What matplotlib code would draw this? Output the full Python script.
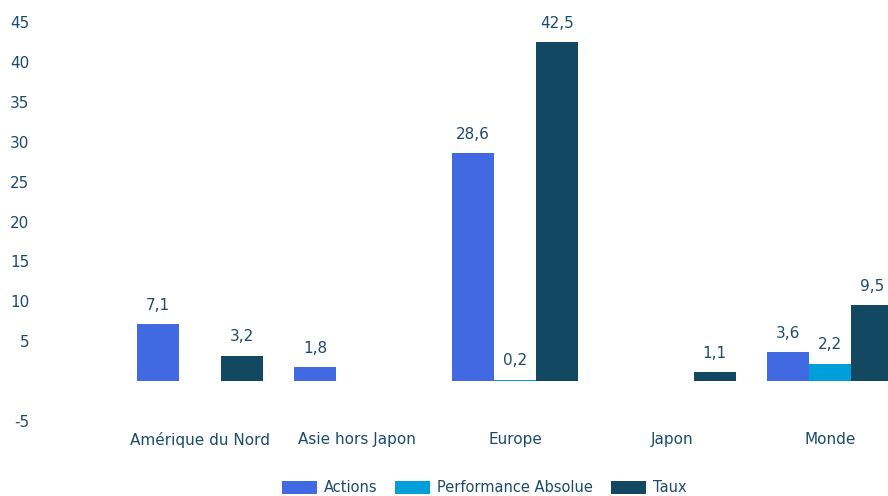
import numpy as np
import matplotlib.pyplot as plt

categories = ["Amérique du Nord", "Asie hors Japon", "Europe", "Japon", "Monde"]
actions = [7.1, 1.8, 28.6, None, 3.6]
perf_absolue = [None, None, 0.2, None, 2.2]
taux = [3.2, None, 42.5, 1.1, 9.5]

series = [
    ("Actions", actions, "#4169e1"),
    ("Performance Absolue", perf_absolue, "#009fd9"),
    ("Taux", taux, "#134862"),
]
text_color = "#1d4a6c"
plt.rcParams["axes.unicode_minus"] = False

fig = plt.figure(figsize=(8.88, 4.96), dpi=100)
ax = fig.add_axes([121 / 888, 75 / 496, 788 / 888, 399 / 496])

x = np.arange(len(categories))
width = 0.8 / 3

for i, (name, vals, color) in enumerate(series):
    pos = x + (i - 1) * width
    h = [v if v is not None else 0 for v in vals]
    bars = ax.bar(pos, h, width, color=color, label=name, linewidth=0)
    for b, v in zip(bars, vals):
        if v is None:
            continue
        ax.annotate(f"{v:.1f}".replace(".", ","),
                    (b.get_x() + b.get_width() / 2, v),
                    xytext=(0, 8), textcoords="offset points",
                    ha="center", va="bottom", fontsize=11, color=text_color)

ax.set_xlim(-0.5, len(categories) - 0.5)
ax.set_ylim(-5, 45)
ax.set_yticks([-5, 5, 10, 15, 20, 25, 30, 35, 40, 45])
ax.set_xticks(x)
ax.set_xticklabels(categories)
ax.tick_params(axis="y", length=0, pad=66, labelsize=11, labelcolor=text_color)
ax.tick_params(axis="x", length=0, pad=8, labelsize=11, labelcolor=text_color)
for s in ax.spines.values():
    s.set_visible(False)

fig.legend(loc="center", bbox_to_anchor=(484 / 888, 8 / 496), ncol=3,
           frameon=False, fontsize=10.5, labelcolor=text_color,
           handlelength=2.4, handleheight=0.9, columnspacing=1.2,
           handletextpad=0.5)

fig.savefig("out.png", dpi=100)
